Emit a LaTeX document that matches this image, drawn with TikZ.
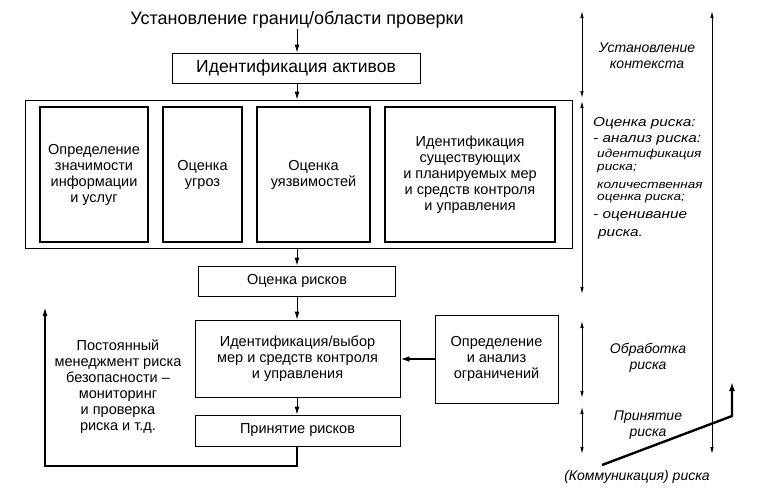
\documentclass[tikz,border=0pt]{standalone}
\usepackage{fontspec}
\setmainfont{Liberation Sans}
\newfontfamily\widefont[FakeStretch=1.18]{Liberation Sans}
\usetikzlibrary{arrows.meta}
\begin{document}
\begin{tikzpicture}[x=1pt,y=-1pt,
  box/.style={draw, line width=0.9pt, align=center, inner sep=0pt, font=\fontsize{14.5}{16}\selectfont},
  thickbox/.style={box, line width=2pt},
  arr/.style={line width=1pt, -{Latex[length=8pt,width=5pt]}},
  darr/.style={line width=0.8pt, {Latex[length=7pt,width=3.5pt]}-{Latex[length=7pt,width=3.5pt]}},
  lbl/.style={align=center, inner sep=0pt, font=\fontsize{14.5}{16}\selectfont},
  itl/.style={align=center, inner sep=0pt, font=\fontsize{14}{15.5}\selectfont\itshape},
  itm/.style={anchor=west, inner sep=0pt, font=\widefont\fontsize{13}{14}\selectfont\itshape},
  its/.style={anchor=west, inner sep=0pt, font=\widefont\fontsize{11.5}{12.5}\selectfont\itshape}
]
\useasboundingbox (0,0) rectangle (770,501);
\coordinate (ax) at (297,0);
% title
\node[lbl, font=\fontsize{18}{20}\selectfont] (title) at (297,20) {Установление границ/области проверки};
% boxes
\node[box, minimum width=248pt, minimum height=30pt, font=\fontsize{17.5}{19}\selectfont] (assets) at (296,68) {Идентификация активов};
\node[box, minimum width=547pt, minimum height=148pt] (outer) at (298.5,174) {};
\node[thickbox, minimum width=108pt, minimum height=135pt] (b1) at (94,174.5) {Определение\\значимости\\информации\\и услуг};
\node[thickbox, minimum width=79pt, minimum height=135pt] (b2) at (202.5,174.5) {Оценка\\угроз};
\node[thickbox, minimum width=113pt, minimum height=135pt] (b3) at (313.5,174.5) {Оценка\\уязвимостей};
\node[thickbox, minimum width=170pt, minimum height=135pt] (b4) at (470,174.5) {Идентификация\\существующих\\и планируемых мер\\и средств контроля\\и управления};
\node[box, minimum width=197pt, minimum height=30pt] (risks) at (297,281) {Оценка рисков};
\node[box, minimum width=205pt, minimum height=77pt] (select) at (297.5,358.5) {Идентификация/выбор\\мер и средств контроля\\и управления};
\node[box, minimum width=205pt, minimum height=31pt] (accept) at (297.5,430.5) {Принятие рисков};
\node[box, minimum width=123pt, minimum height=88pt] (constr) at (496.5,359) {Определение\\и анализ\\ограничений};
% main arrows
\draw[arr] (ax |- title.south) -- (ax |- assets.north);
\draw[arr] (ax |- assets.south) -- (ax |- outer.north);
\draw[arr] (ax |- outer.south) -- (ax |- risks.north);
\draw[arr] (ax |- risks.south) -- (ax |- select.north);
\draw[arr] (ax |- select.south) -- (ax |- accept.north);
\draw[line width=2pt, -{Latex[length=9pt,width=6pt]}] (constr.west) -- (select.east |- constr.west);
% feedback
\coordinate (fbc) at (45,466);
\coordinate (fbt) at (45,307);
\draw[line width=1.6pt, -{Latex[length=9pt,width=5pt]}] (ax |- accept.south) |- (fbc) -- (fbt);
\node[lbl] (cont) at (118,387) {Постоянный\\менеджмент риска\\безопасности –\\мониторинг\\и проверка\\риска и т.д.};
% right side arrows
\coordinate (r1a) at (582,11); \coordinate (r1b) at (582,98);
\coordinate (r2a) at (582,101); \coordinate (r2b) at (582,294);
\coordinate (r3a) at (582,321); \coordinate (r3b) at (582,398);
\coordinate (r4a) at (582,407); \coordinate (r4b) at (582,454);
\coordinate (l1) at (712,11); \coordinate (l2) at (712,454);
\draw[darr] (r1a) -- (r1b);
\draw[darr] (r2a) -- (r2b);
\draw[darr] (r3a) -- (r3b);
\draw[darr] (r4a) -- (r4b);
\draw[darr] (l1) -- (l2);
\coordinate (d1) at (602,465); \coordinate (d2) at (732,416); \coordinate (d3) at (732,382);
\draw[line width=2.4pt, -{Latex[length=9pt,width=6pt]}] (d1) -- (d2) -- (d3);
% right labels
\node[itl] (ctx) at (647,55.5) {Установление\\контекста};
\node[itm] (ra1) at (593,123) {Оценка риска:};
\node[itm] (ra2) at (593,140) {- анализ риска:};
\node[its] (ra3) at (597,155) {идентификация};
\node[its] (ra4) at (597,169) {риска;};
\node[its] (ra5) at (597,185) {количественная};
\node[its] (ra6) at (597,199) {оценка риска;};
\node[itm] (ra7) at (593,216) {- оценивание};
\node[itm] (ra8) at (598,234) {риска.};
\node[itl] (trt) at (648,358) {Обработка\\риска};
\node[itl] (acc) at (648,425) {Принятие\\риска};
\node[itl] (comm) at (637,477) {(Коммуникация) риска};
\end{tikzpicture}
\end{document}
